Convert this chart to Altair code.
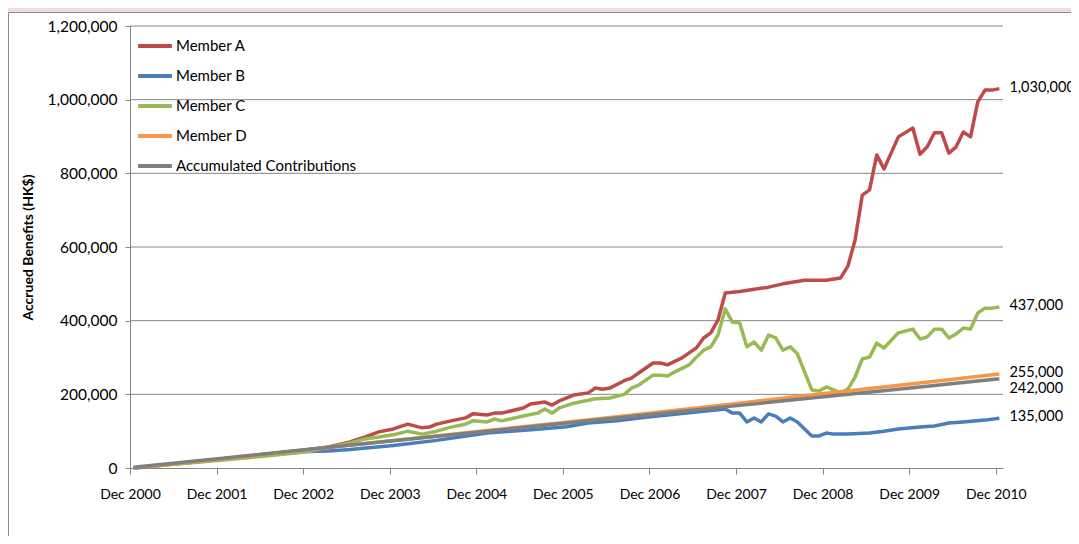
import altair as alt
import pandas as pd

SERIES = ["Member A", "Member B", "Member C", "Member D", "Accumulated Contributions"]
COLORS = ["#BE4B48", "#4A7EBB", "#98B954", "#F79646", "#7F7F7F"]

# month index: 0 = Dec 2000, 120 = Dec 2010
A_MONTHS = [0, 12, 24, 27, 30, 32, 34, 36, 38, 40, 41, 42, 44, 46, 47, 49, 50, 51, 54, 55, 57, 58, 59,
            61, 63, 64, 65, 66, 68, 69, 70, 72, 73, 74, 76, 78, 79, 80, 81, 82, 84, 88, 90, 93, 96,
            98, 99, 100, 101, 102, 103, 104, 106, 108, 109, 110, 111, 112, 113, 114, 115, 116, 117,
            118, 119, 120]
A_VALUES = [0, 24000, 49000, 57000, 71000, 84000, 98000, 106000, 119000, 109000, 111000, 119000,
            128000, 136000, 147000, 144000, 149000, 149000, 163000, 174000, 179000, 171000, 182000,
            198000, 204000, 217000, 214000, 217000, 237000, 244000, 258000, 285000, 285000, 280000,
            299000, 326000, 353000, 367000, 402000, 475000, 479000, 491000, 500000, 510000, 510000,
            516000, 548000, 619000, 741000, 755000, 850000, 812000, 899000, 923000, 852000, 872000,
            910000, 910000, 855000, 872000, 912000, 899000, 994000, 1026000, 1026000, 1030000]

B_MONTHS = [0, 12, 24, 27, 30, 36, 42, 49, 56, 60, 63, 67, 71, 76, 82, 83, 84, 85, 86, 87, 88, 89,
            90, 91, 92, 94, 95, 96, 97, 99, 102, 104, 106, 109, 111, 113, 115, 118, 120]
B_VALUES = [0, 23000, 45000, 46000, 50000, 61000, 75000, 95000, 105000, 112000, 122000, 128000,
            138000, 148000, 160000, 149000, 149000, 125000, 136000, 125000, 147000, 141000, 125000,
            136000, 125000, 87000, 87000, 95000, 92000, 92000, 95000, 100000, 106000, 111000,
            114000, 122000, 125000, 130000, 135000]

C_MONTHS = [0, 6, 12, 18, 24, 27, 30, 32, 34, 36, 38, 40, 42, 44, 46, 47, 49, 50, 51, 54, 56, 57,
            58, 59, 61, 64, 66, 68, 69, 70, 72, 73, 74, 75, 77, 78, 79, 80, 81, 82, 83, 84, 85, 86,
            87, 88, 89, 90, 91, 92, 94, 95, 96, 98, 99, 100, 101, 102, 103, 104, 106, 108, 109,
            110, 111, 112, 113, 114, 115, 116, 117, 118, 119, 120]
C_VALUES = [0, 11000, 21000, 32000, 44000, 56000, 68000, 79000, 84000, 90000, 100000, 92000,
            100000, 111000, 119000, 128000, 125000, 133000, 128000, 141000, 149000, 160000, 149000,
            163000, 176000, 188000, 190000, 200000, 217000, 225000, 252000, 252000, 250000, 261000,
            280000, 301000, 320000, 329000, 361000, 432000, 396000, 394000, 329000, 342000, 320000,
            361000, 353000, 320000, 329000, 310000, 212000, 209000, 220000, 204000, 214000, 247000,
            296000, 301000, 339000, 326000, 367000, 377000, 350000, 356000, 377000, 377000, 353000,
            364000, 380000, 377000, 421000, 434000, 434000, 437000]

D_MONTHS = [0, 12, 24, 36, 48, 60, 72, 84, 96, 108, 120]
D_VALUES = [0, 24500, 49500, 74500, 99500, 124500, 150000, 176000, 203000, 229000, 255000]

E_MONTHS = [0, 12, 24, 36, 48, 60, 72, 84, 96, 108, 120]
E_VALUES = [2000, 26000, 50000, 74000, 98000, 122000, 146000, 170000, 194000, 218000, 242000]

Y_TICKS = [0, 200000, 400000, 600000, 800000, 1000000, 1200000]
X_TICKS = [0, 12, 24, 36, 48, 60, 72, 84, 96, 108, 120]

rows = []
for name, ms, vs in zip(SERIES, [A_MONTHS, B_MONTHS, C_MONTHS, D_MONTHS, E_MONTHS],
                        [A_VALUES, B_VALUES, C_VALUES, D_VALUES, E_VALUES]):
    for m, v in zip(ms, vs):
        rows.append({"series": name, "month": m, "value": v})
df = pd.DataFrame(rows)
ends = df.groupby("series", sort=False).tail(1)

FONT = "Lato"
GRAY = "#868686"

X_ENC = alt.X("pos:Q", scale=alt.Scale(domain=[0, 121], nice=False, zero=False),
              axis=alt.Axis(values=X_TICKS, labelExpr="'Dec ' + (2000 + datum.value / 12)",
                            tickSize=6, labelPadding=13, labelFontSize=14, labelFont=FONT,
                            labelColor="black", domainColor=GRAY, tickColor=GRAY, grid=False,
                            zindex=1, labelFlush=False),
              title=None)
Y_ENC = alt.Y("value:Q", scale=alt.Scale(domain=[0, 1200000], nice=False),
              axis=alt.Axis(values=Y_TICKS, format=",d", tickSize=5, labelPadding=8,
                            labelFontSize=15.5, labelFont=FONT, labelColor="black",
                            domainColor=GRAY, tickColor=GRAY, grid=False, zindex=1,
                            titleFont=FONT, titleFontSize=14,
                            titleFontWeight="bold", titleColor="black", titleX=-102, titleY=221,
                            titleAngle=270, titleAlign="center", titleBaseline="middle"),
              title="Accrued Benefits (HK$)")

frame = alt.Chart(pd.DataFrame({"k": [0]})).mark_rect(
    fill="white", stroke="#8C8C8C", strokeWidth=1
).encode(x=alt.value(-121.5), x2=alt.value(1100), y=alt.value(-13.5), y2=alt.value(600))

grid = alt.Chart(pd.DataFrame({"value": Y_TICKS[1:]})).mark_rule(
    color=GRAY, strokeWidth=1
).encode(y=Y_ENC)

lines = alt.Chart(df).transform_calculate(pos="datum.month + 0.5").mark_line(
    strokeWidth=3.5, strokeJoin="round"
).encode(
    x=X_ENC, y=Y_ENC,
    color=alt.Color("series:N", scale=alt.Scale(domain=SERIES, range=COLORS),
                    sort=SERIES,
                    legend=alt.Legend(orient="none", legendX=10, legendY=5, title=None,
                                      symbolType="M-1.3,0L1.3,0", symbolSize=676,
                                      symbolStrokeWidth=4, labelOffset=6, rowPadding=7,
                                      padding=0, labelFont=FONT, labelFontSize=15,
                                      labelColor="black", labelLimit=0)),
    order=alt.Order("month:Q")
)

end_main = alt.Chart(ends[ends.series != "Accumulated Contributions"]).transform_calculate(
    pos="datum.month + 0.5").mark_text(
    align="left", baseline="middle", dx=10, dy=-1, font=FONT, fontSize=14.5, color="black"
).encode(x=X_ENC, y=Y_ENC, text=alt.Text("value:Q", format=",d"))

end_contrib = alt.Chart(ends[ends.series == "Accumulated Contributions"]).transform_calculate(
    pos="datum.month + 0.5").mark_text(
    align="left", baseline="middle", dx=10, dy=10, font=FONT, fontSize=14.5, color="black"
).encode(x=X_ENC, y=Y_ENC, text=alt.Text("value:Q", format=",d"))

chart = alt.layer(frame, grid, lines, end_main, end_contrib).properties(
    width=873, height=442,
    background="#F2DCDB",
    padding={"left": 122, "top": 18, "right": 68, "bottom": 68},
    autosize=alt.AutoSizeParams(type="none"),
).configure_view(stroke=None)

chart.save("out.html", embed_options={"renderer": "svg", "actions": False})
